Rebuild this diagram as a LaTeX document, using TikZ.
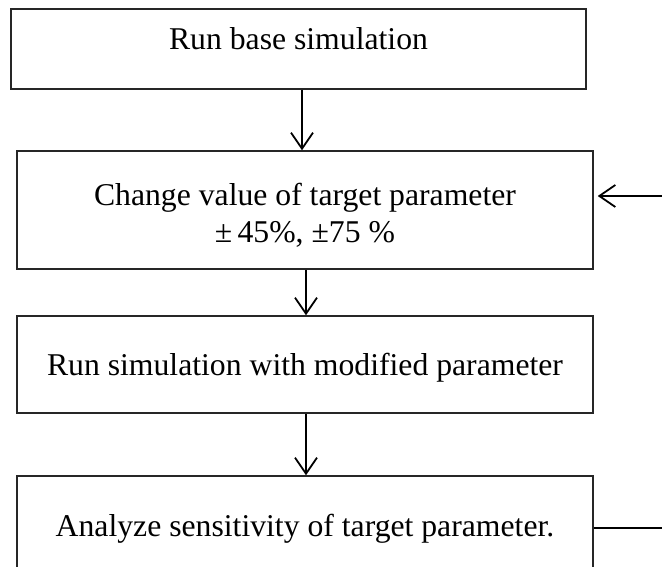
\documentclass[tikz,border=0pt]{standalone}
\usepackage{fontspec}
\setmainfont{Liberation Serif}
\usetikzlibrary{arrows.meta,calc}
\begin{document}
\begin{tikzpicture}[x=1pt,y=-1pt,
  box/.style={draw=black!85,line width=1.5pt,rectangle,inner sep=0pt},
  lbl/.style={anchor=base,inner sep=0pt,font=\fontsize{31.7}{36}\selectfont},
  arr/.style={line width=1.8pt,-{Straight Barb[length=16pt,width=22pt,line width=1.8pt]}},
  link/.style={line width=1.8pt}]
\useasboundingbox (0,0) rectangle (662,567);
\fill[white] (0,0) rectangle (662,567);
\node[box,minimum width=575pt,minimum height=80pt] (b1) at (298.5,49) {};
\node[box,minimum width=576pt,minimum height=118pt] (b2) at (305,210) {};
\node[box,minimum width=576pt,minimum height=97pt] (b3) at (305,364.5) {};
\node[box,minimum width=576pt,minimum height=134pt] (b4) at (305,543) {};
\node[lbl] (t1) at (298.5,50) {Run base simulation};
\node[lbl] (t2a) at (305,206) {Change value of target parameter};
\node[lbl] (t2b) at (305,243) {±\,45\%, ±75 \%};
\node[lbl] (t3) at (305,375) {Run simulation with modified parameter};
\node[lbl] (t4) at (305,536) {Analyze sensitivity of target parameter.};
\coordinate (r1) at (662,196);
\coordinate (r2) at (662,528);
\draw[arr] ([xshift=3.5pt]b1.south) -- ([xshift=-3pt]b2.north);
\draw[arr] ([xshift=1pt]b2.south) -- ([xshift=1pt]b3.north);
\draw[arr] ([xshift=1pt]b3.south) -- ([xshift=1pt]b4.north);
\draw[arr,shorten >=4pt] (r1) -- (b2.east |- r1);
\draw[link] (b4.east |- r2) -- (r2);
\end{tikzpicture}
\end{document}
